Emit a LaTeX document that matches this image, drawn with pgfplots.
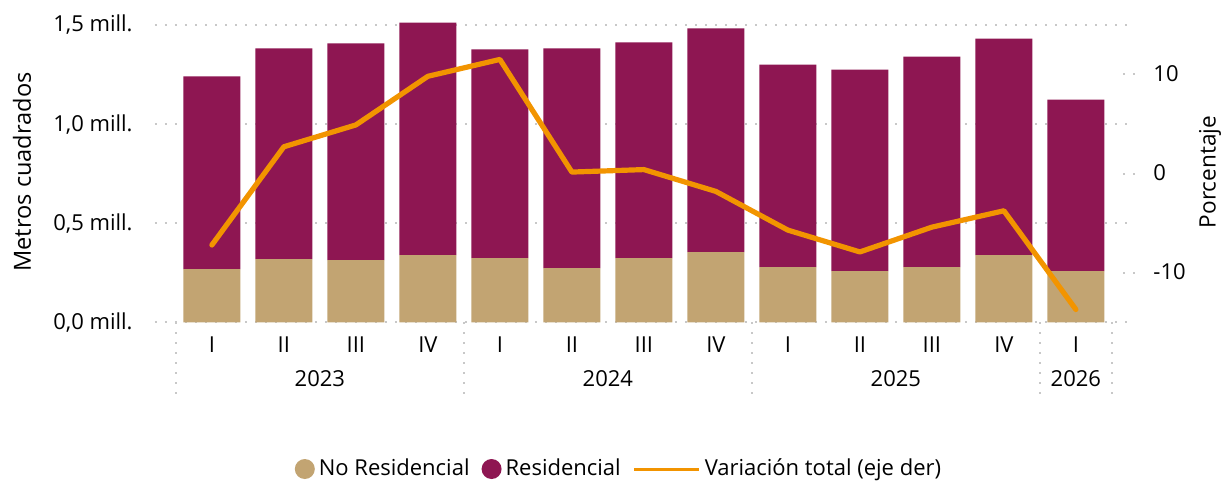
\documentclass[border=0pt]{standalone}
\usepackage{fontspec}
\setmainfont{Open Sans}
\usepackage{pgfplots}
\usepackage{pgfplotstable}
\pgfplotsset{compat=1.18}

\definecolor{resid}{HTML}{8E1652}
\definecolor{nores}{HTML}{C2A472}
\definecolor{naranja}{HTML}{F29400}
\definecolor{rejilla}{HTML}{C8C8C8}

% trimestre, no residencial, residencial (mill. m2), variacion total (%)
\pgfplotstableread{
x  nores  resid  var
0  0.269  0.971  -7.2
1  0.319  1.062   2.7
2  0.314  1.092   4.9
3  0.339  1.172   9.8
4  0.324  1.052  11.5
5  0.274  1.107   0.15
6  0.324  1.087   0.4
7  0.354  1.127  -1.8
8  0.279  1.020  -5.7
9  0.259  1.015  -7.9
10 0.279  1.060  -5.4
11 0.339  1.091  -3.75
12 0.259  0.864 -13.7
}\datos

\tikzset{punteado/.style={rejilla, line width=1pt, dash pattern=on 1pt off 4pt}}

\begin{document}
\begin{tikzpicture}[font=\fontsize{11}{13}\selectfont]
\pgfplotsset{
  base/.style={
    width=486pt, height=148.85pt, scale only axis,
    at={(0,0)}, anchor=south west,
    xmin=-0.79, xmax=12.71,
    axis line style={draw=none}, tick style={draw=none},
    clip=false,
  },
}

\begin{axis}[base,
  ybar stacked, bar width=0.79,
  ymin=0, ymax=1.5, ytick={0,0.5,1,1.5},
  yticklabels={{0,0 mill.},{0,5 mill.},{1,0 mill.},{1,5 mill.}},
  ymajorgrids, major grid style={punteado},
  yticklabel style={anchor=east, inner sep=0pt, xshift=-11pt,
                    text height=0.72em, text depth=0pt},
  xtick={0,...,12},
  xticklabels={I,II,III,IV,I,II,III,IV,I,II,III,IV,I},
  xticklabel style={anchor=center, inner sep=0pt, yshift=-11.3pt,
                    text height=0.72em, text depth=0pt},
  legend style={at={(axis description cs:0.4763,-0.4925)}, anchor=center,
                draw=none, fill=none, legend columns=-1,
                nodes={inner sep=0pt}, column sep=2pt,
                /tikz/every even column/.append style={column sep=6pt}},
]
\addplot[fill=nores, draw=none,
  legend image code/.code={\fill[nores] (5pt,0) circle (5pt);}]
  table[x=x, y=nores] {\datos};
\addplot[fill=resid, draw=none,
  legend image code/.code={\fill[resid] (5pt,0) circle (5pt);}]
  table[x=x, y=resid] {\datos};
\addlegendimage{legend image code/.code={\draw[naranja, line width=1.5pt] (0pt,0pt) -- (32.5pt,0pt);}}
\legend{No Residencial, Residencial, Variación total (eje der)}

\foreach \s in {-0.5,3.5,7.5,11.5,12.5}{
  \edef\tmp{\noexpand\draw[punteado] (axis cs:\s,0) -- ([yshift=-38.8pt]axis cs:\s,0);}
  \tmp
}
\node[inner sep=0pt, text height=0.72em, text depth=0pt, yshift=-28.3pt] at (axis cs:1.5,0) {2023};
\node[inner sep=0pt, text height=0.72em, text depth=0pt, yshift=-28.3pt] at (axis cs:5.5,0) {2024};
\node[inner sep=0pt, text height=0.72em, text depth=0pt, yshift=-28.3pt] at (axis cs:9.5,0) {2025};
\node[inner sep=0pt, text height=0.72em, text depth=0pt, yshift=-28.3pt] at (axis cs:12,0) {2026};
\end{axis}

\begin{axis}[base,
  ymin=-15, ymax=15, ytick={-10,0,10}, yticklabels={-10,0,10},
  yticklabel pos=right, xtick=\empty,
  yticklabel style={anchor=west, inner sep=0pt, xshift=13pt,
                    text height=0.72em, text depth=0pt},
]
\addplot[naranja, line width=2.6pt, line join=round, line cap=round]
  table[x=x, y=var] {\datos};
\draw[punteado] (axis cs:12.66,10) -- (axis cs:12.86,10);
\draw[punteado] (axis cs:12.66,0) -- (axis cs:12.86,0);
\draw[punteado] (axis cs:12.66,-10) -- (axis cs:12.86,-10);
\end{axis}

\node[rotate=90, font=\fontsize{11.8}{14}\selectfont] at (-66.5pt,75.2pt) {Metros cuadrados};
\node[rotate=90, font=\fontsize{11.3}{14}\selectfont] at (527.5pt,75.2pt) {Porcentaje};

\pgfresetboundingbox
\path[use as bounding box] (-77.5pt,-79.8pt) rectangle (535pt,161.2pt);
\end{tikzpicture}
\end{document}
